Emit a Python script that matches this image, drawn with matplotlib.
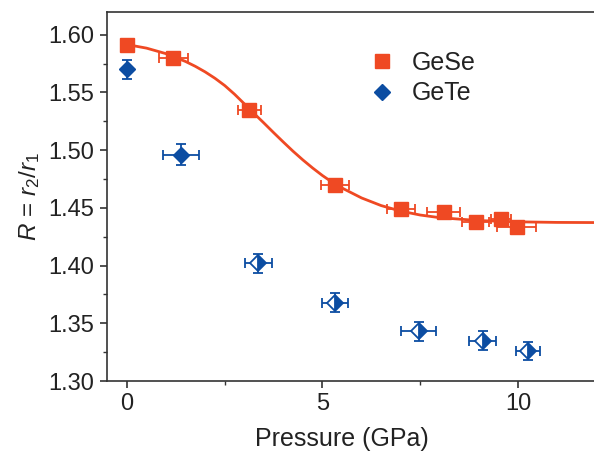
import matplotlib
matplotlib.use("Agg")
import matplotlib.pyplot as plt
from matplotlib.ticker import MultipleLocator

plt.rcParams['font.family'] = ['Liberation Sans', 'DejaVu Sans']
plt.rcParams['mathtext.fontset'] = 'custom'
plt.rcParams['mathtext.rm'] = 'Liberation Sans'
plt.rcParams['mathtext.it'] = 'Liberation Sans:italic'

# GeSe data (squares)
gese_p = [0.0, 1.18, 3.13, 5.33, 7.0, 8.1, 8.92, 9.56, 9.97]
gese_r = [1.591, 1.580, 1.535, 1.470, 1.449, 1.446, 1.438, 1.440, 1.433]
gese_perr = [0.0, 0.37, 0.30, 0.36, 0.36, 0.42, 0.35, 0.25, 0.50]

# GeTe data (diamonds)
gete_p = [0.0, 1.38, 3.36, 5.33, 7.46, 9.1, 10.26]
gete_r = [1.570, 1.496, 1.402, 1.368, 1.343, 1.335, 1.326]
gete_perr = [0.0, 0.45, 0.34, 0.33, 0.45, 0.35, 0.30]
gete_rerr = [0.008, 0.009, 0.008, 0.008, 0.008, 0.008, 0.008]

# Fitted curve
fit_p = [0.0, 0.5, 1.0, 1.5, 1.75, 2.0, 2.25, 2.5, 2.75, 3.0, 3.25, 3.5, 3.75,
         4.0, 4.25, 4.5, 4.75, 5.0, 5.25, 5.5, 6.0, 6.5, 7.0, 7.5, 8.0, 9.0,
         10.0, 11.0, 12.5]
fit_r = [1.5915, 1.5884, 1.5836, 1.5768, 1.5726, 1.5678, 1.5623, 1.5560, 1.5485,
         1.5402, 1.5318, 1.5236, 1.5152, 1.5070, 1.4990, 1.4915, 1.4845, 1.4780,
         1.4722, 1.4672, 1.4586, 1.4520, 1.4472, 1.4438, 1.4415, 1.4390, 1.4379,
         1.4374, 1.4372]

red = '#EF4923'
blue = '#0C4DA2'

fig = plt.figure(figsize=(5.94, 4.59), dpi=100)
ax = fig.add_axes([107/594, 78/459, (600-107)/594, (381-12)/459])

ax.plot(fit_p, fit_r, color=red, lw=2.0, zorder=2)

ax.errorbar(gese_p, gese_r, xerr=gese_perr, fmt='none', ecolor=red,
            elinewidth=1.3, capsize=3.5, capthick=1.3, zorder=3)
ax.plot(gese_p, gese_r, 's', color=red, ms=9.5, mec=red, zorder=4,
        label='GeSe', ls='none')

ax.errorbar(gete_p, gete_r, xerr=gete_perr, yerr=gete_rerr, fmt='none',
            ecolor=blue, elinewidth=1.3, capsize=3.5, capthick=1.3, zorder=3)
ax.plot(gete_p[:2], gete_r[:2], 'D', color=blue, ms=8.5, mec=blue, zorder=4,
        label='GeTe', ls='none')
ax.plot(gete_p[2:], gete_r[2:], 'D', color=blue, ms=8.5, mec=blue, mew=1.3,
        fillstyle='right', markerfacecoloralt='white', zorder=4, ls='none')

ax.set_xlim(-0.51, (600-127)/39.1)
ax.set_ylim(1.30, 1.6197)
ax.xaxis.set_major_locator(MultipleLocator(5))
ax.xaxis.set_minor_locator(MultipleLocator(2.5))
ax.yaxis.set_major_locator(MultipleLocator(0.05))
ax.yaxis.set_minor_locator(MultipleLocator(0.025))
ax.yaxis.set_major_formatter(matplotlib.ticker.FormatStrFormatter('%.2f'))

for s in ax.spines.values():
    s.set_color('#333333')
    s.set_linewidth(1.2)
ax.tick_params(which='major', direction='out', length=5, width=1.2,
               color='#333333', labelsize=17, labelcolor='#222222', pad=4)
ax.tick_params(which='minor', direction='out', length=3, width=1.0, color='#333333')

ax.set_xlabel('Pressure (GPa)', fontsize=18, color='#222222', labelpad=8)
ax.xaxis.set_label_coords(0.477, -0.125)
ax.set_ylabel(r'$R$ = $r_2$/$r_1$', fontsize=17.5, color='#222222', labelpad=5)

leg = ax.legend(loc='upper left', bbox_to_anchor=(0.482, 0.955), frameon=False,
                fontsize=18, handletextpad=0.6, labelspacing=0.25,
                handlelength=1.2)
for t in leg.get_texts():
    t.set_color('#222222')

fig.savefig('out.png', dpi=100)
